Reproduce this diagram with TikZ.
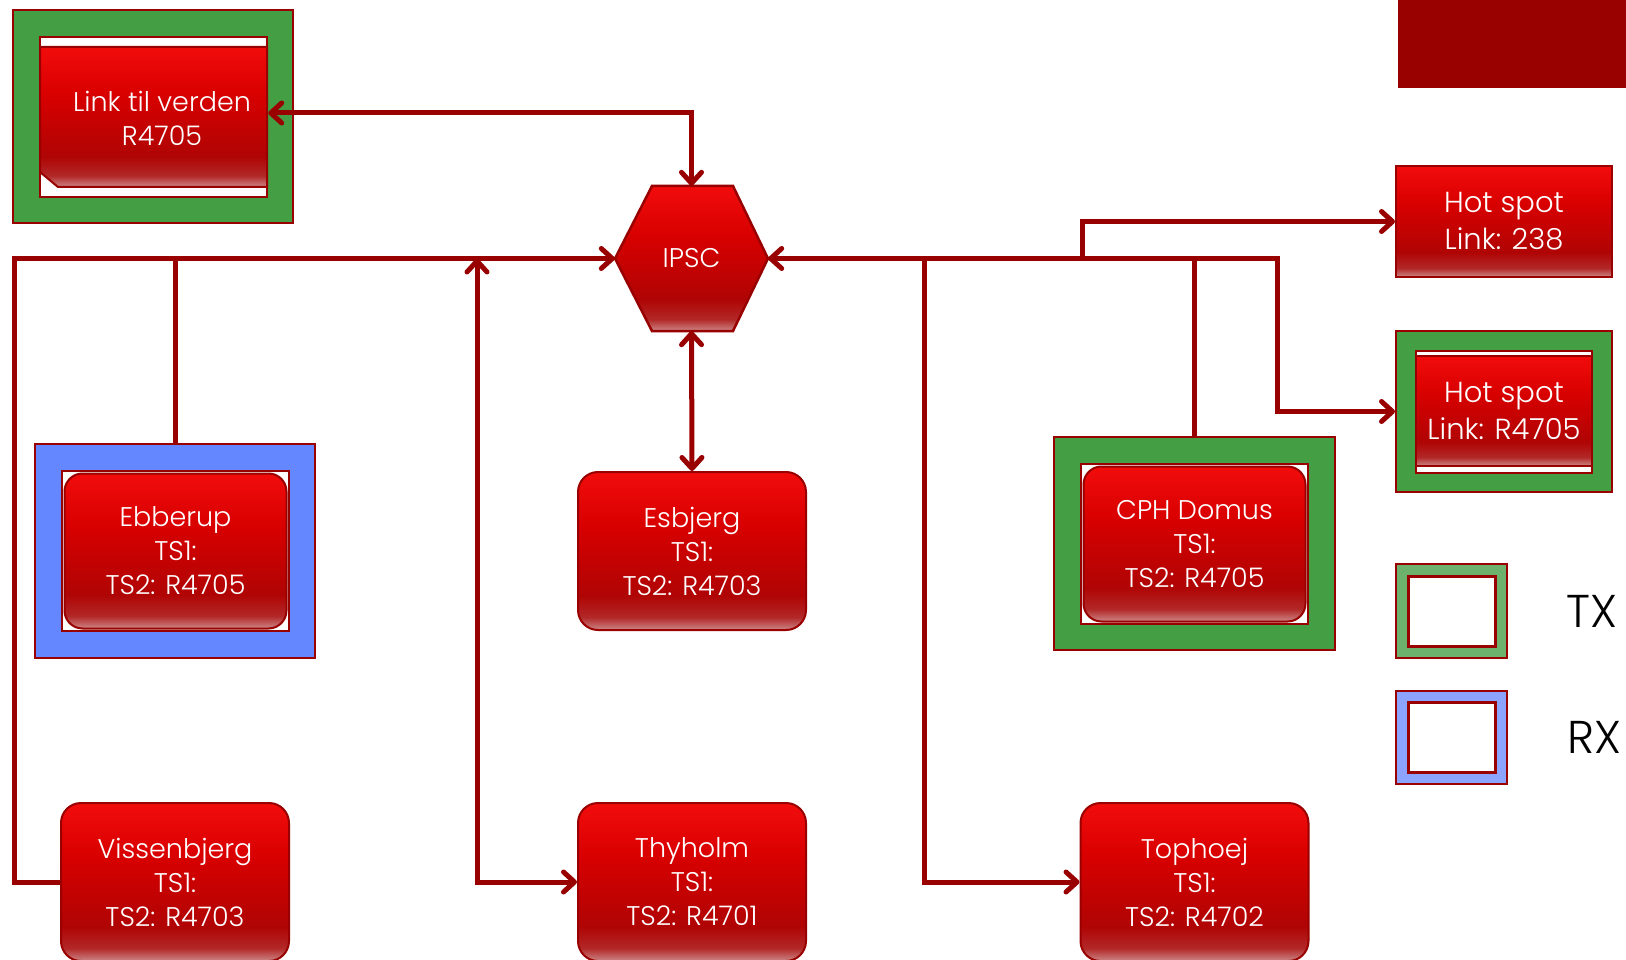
\documentclass[tikz,border=0pt]{standalone}
\usepackage{fontspec}
\setmainfont{Poppins}[UprightFont=* Light]
\usetikzlibrary{arrows.meta,calc}
\definecolor{dred}{RGB}{153,0,0}
\definecolor{rg0}{RGB}{205,135,135}
\definecolor{rg1}{RGB}{178,40,40}
\definecolor{rg2}{RGB}{176,4,4}
\definecolor{rg3}{RGB}{216,0,0}
\definecolor{rg4}{RGB}{242,12,12}
\definecolor{gframe}{RGB}{68,158,68}
\definecolor{bframe}{RGB}{100,134,255}
\definecolor{gleg}{RGB}{108,178,108}
\definecolor{bleg}{RGB}{140,164,255}
\pgfdeclareverticalshading{redgloss}{100bp}{color(0bp)=(rg0); color(25bp)=(rg0); color(29bp)=(rg1); color(36bp)=(rg2); color(58bp)=(rg3); color(75bp)=(rg4); color(100bp)=(rg4)}
\tikzset{
  >={Straight Barb[length=11pt,width=20pt,round]},
  conn/.style={draw=dred, line width=5pt},
  redbox/.style={draw=dred, line width=2pt, shade, shading=redgloss, text=white, align=center, inner sep=0pt, font=\fontsize{27}{34}\selectfont},
  roundbox/.style={redbox, rounded corners=20pt},
  hotfont/.style={font=\fontsize{29}{37}\selectfont},
  frame/.style={draw=dred, line width=2pt, inner sep=0pt},
  whitebox/.style={draw=dred, line width=2.5pt, fill=white, inner sep=0pt},
  label/.style={text=white, align=center, inner sep=0pt, font=\fontsize{27}{34}\selectfont},
  legtext/.style={anchor=west, inner sep=0pt, font=\fontsize{46}{50}\selectfont, text=black}
}
\begin{document}
\begin{tikzpicture}[x=1pt,y=-1pt]
\useasboundingbox (0,0) rectangle (1626,960);
\clip (0,0) rectangle (1626,960);

% corner block
\node[fill=dred, inner sep=0pt, minimum width=228pt, minimum height=88pt] (corner) at (1512,44) {};

% Link til verden
\node[frame, fill=gframe, minimum width=280pt, minimum height=213pt] (linkf) at (153,116.5) {};
\node[whitebox, minimum width=227pt, minimum height=160pt] (link) at (153.5,117) {};
\path[draw=dred, line width=2pt, shade, shading=redgloss] (40,47) -- (267,47) -- (267,187) -- (58,187) -- (40,172) -- cycle;
\node[label] (linkt) at (162,118) {Link til verden\\R4705};

% IPSC
\path[draw=dred, line width=2.5pt, shade, shading=redgloss] (615,258.5) -- (652,186) -- (733,186) -- (768,258.5) -- (733,331) -- (652,331) -- cycle;
\node[label, minimum width=153pt, minimum height=145pt] (ipsc) at (691.5,258.5) {IPSC};

% Hot spots
\node[redbox, hotfont, minimum width=216pt, minimum height=111pt] (hs1) at (1504,221.5) {Hot spot\\Link: 238};
\node[frame, fill=gframe, minimum width=216pt, minimum height=161pt] (hs2) at (1504,411.5) {};
\node[whitebox, minimum width=176pt, minimum height=122pt] (hs2w) at (1504,412) {};
\node[redbox, hotfont, minimum width=176pt, minimum height=110pt] (hs2r) at (1504,411) {Hot spot\\Link: R4705};

% Ebberup
\node[frame, fill=bframe, minimum width=280pt, minimum height=214pt] (ebb) at (175,551) {};
\node[whitebox, minimum width=227pt, minimum height=160pt] (ebbw) at (175.5,551) {};
\node[roundbox, rounded corners=18pt, minimum width=222pt, minimum height=155pt] (ebbr) at (175.5,551) {Ebberup\\TS1:\\TS2: R4705};

% Esbjerg
\node[roundbox, minimum width=228pt, minimum height=158pt] (esb) at (692,551) {Esbjerg\\TS1:\\TS2: R4703};

% CPH Domus
\node[frame, fill=gframe, minimum width=281pt, minimum height=213pt] (cph) at (1194.5,543.5) {};
\node[whitebox, minimum width=227pt, minimum height=160pt] (cphw) at (1194.5,544) {};
\node[roundbox, rounded corners=18pt, minimum width=222pt, minimum height=155pt] (cphr) at (1194.5,544) {CPH Domus\\TS1:\\TS2: R4705};

% bottom row
\node[roundbox, minimum width=228pt, minimum height=158pt] (viss) at (175,882) {Vissenbjerg\\TS1:\\TS2: R4703};
\node[roundbox, minimum width=228pt, minimum height=158pt] (thy) at (692,882) {Thyholm\\TS1:\\TS2: R4701};
\node[roundbox, minimum width=228pt, minimum height=158pt] (toph) at (1194.5,882) {Tophoej\\TS1:\\TS2: R4702};

% legend
\node[frame, fill=gleg, minimum width=111pt, minimum height=94pt] (tx) at (1451.5,611) {};
\node[whitebox, line width=3pt, minimum width=87pt, minimum height=70pt] (txw) at (1451.5,611) {};
\node[legtext] (txl) at (1566,611) {TX};
\node[frame, fill=bleg, minimum width=111pt, minimum height=93pt] (rx) at (1451.5,737.5) {};
\node[whitebox, line width=3pt, minimum width=87pt, minimum height=70pt] (rxw) at (1451.5,737.5) {};
\node[legtext] (rxl) at (1567,737) {RX};

% junction coordinates
\coordinate (lc) at (14,258.5);
\coordinate (tj) at (477,258.5);
\coordinate (rj1) at (1277,258.5);
\coordinate (rj2) at (1082,258.5);
\coordinate (rj3) at (924,258.5);

% connectors
\draw[conn,<->] ($(link.east)+(0,-4)$) -| (ipsc.north);
\draw[conn,->] (viss.west) -| (lc) -- (ipsc.west);
\draw[conn] (ebb.north) -- (ebb.north |- lc);
\draw[conn,<->] (thy.west) -| (tj);
\draw[conn,<->] (ipsc.south) -- (esb.north);
\draw[conn,<->] (ipsc.east) -- (rj1) |- (hs2.west);
\draw[conn,->] (rj2) |- (hs1.west);
\draw[conn,->] (rj3) |- (toph.west);
\draw[conn] (cph.north) -- (cph.north |- rj1);
\end{tikzpicture}
\end{document}
